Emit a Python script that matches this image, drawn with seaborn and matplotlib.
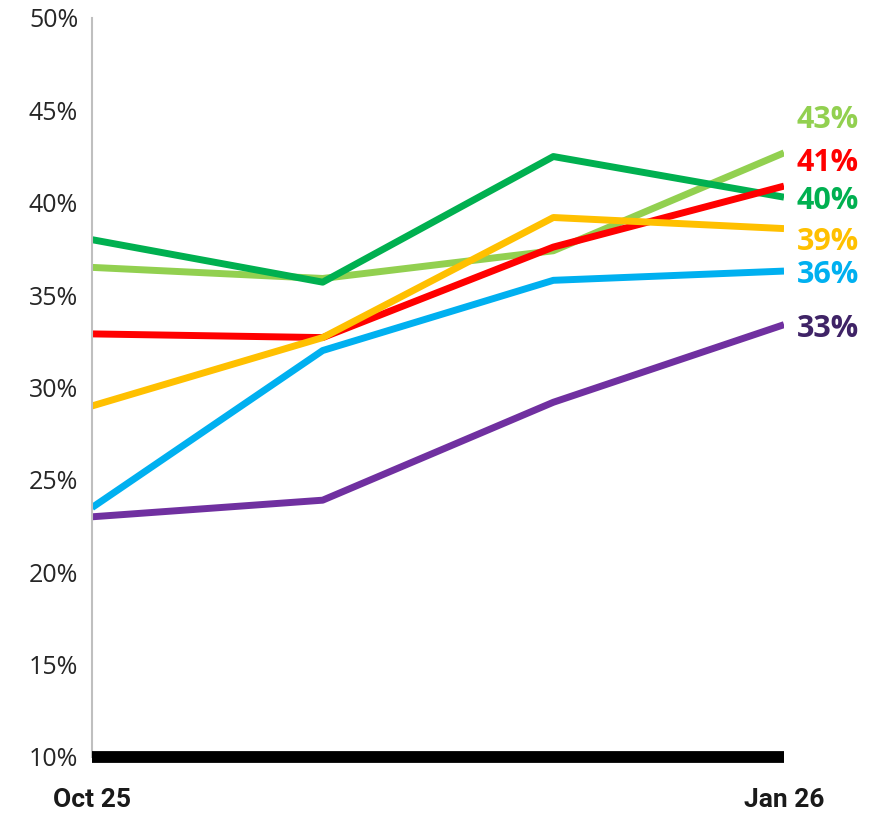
import pandas as pd
import numpy as np
import matplotlib.pyplot as plt
import seaborn as sns

# Data

periods = ["Oct 25", "Nov 25", "Dec 25", "Jan 26"]

light_green = [36.5, 35.9, 37.4, 42.7]
dark_green = [38.0, 35.7, 42.5, 40.3]
red = [32.9, 32.7, 37.6, 40.9]
yellow = [29.0, 32.7, 39.2, 38.6]
blue = [23.5, 32.0, 35.8, 36.3]
purple = [23.0, 23.9, 29.2, 33.4]

series_names = ["light_green", "dark_green", "red", "yellow", "blue", "purple"]
series_values = [light_green, dark_green, red, yellow, blue, purple]

# Styles

line_colors = {
    "light_green": "#92D050",
    "dark_green": "#00B050",
    "red": "#FF0000",
    "yellow": "#FFC000",
    "blue": "#00B0F0",
    "purple": "#7030A0",
}

label_colors = {
    "light_green": "#92D050",
    "dark_green": "#00B050",
    "red": "#FF0000",
    "yellow": "#FFC000",
    "blue": "#00B0F0",
    "purple": "#3F2366",
}

# label offsets in pixels (to avoid overlap)
label_offsets = {
    "light_green": 33,
    "dark_green": -4,
    "red": 23,
    "yellow": -13,
    "blue": -4,
    "purple": -4,
}

rows = []
for name, vals in zip(series_names, series_values):
    for i, v in enumerate(vals):
        rows.append({"series": name, "x": i, "value": v})
df = pd.DataFrame(rows)

sns.set_style("white")
plt.rcParams["font.family"] = ["Open Sans", "DejaVu Sans"]
plt.rcParams["lines.solid_capstyle"] = "butt"

fig = plt.figure(figsize=(8.69, 8.13), dpi=100)
ax = fig.add_axes([0.1059, 0.0689, 0.7963, 0.9090])

sns.lineplot(
    data=df,
    x="x",
    y="value",
    hue="series",
    palette=line_colors,
    linewidth=5,
    legend=False,
    ax=ax,
)

ax.set_xlim(0, len(periods) - 1)
ax.set_ylim(10, 50)

ax.axhline(10, color="black", linewidth=8.5, clip_on=False, zorder=5,
           solid_capstyle="butt")

ax.set_yticks(np.arange(10, 51, 5))
ax.set_yticklabels([f"{t}%" for t in range(10, 51, 5)], fontsize=18, color="#262626")

ax.set_xticks([0, len(periods) - 1])
ax.set_xticklabels(
    [periods[0], periods[-1]],
    fontsize=19,
    fontweight="bold",
    family=["Liberation Sans Narrow", "Roboto", "DejaVu Sans"],
    color="#1a1a1a",
)
ax.tick_params(axis="x", length=0, pad=22)
ax.tick_params(axis="y", length=0, pad=10)

ax.set_xlabel("")
ax.set_ylabel("")

for side in ["top", "right", "bottom"]:
    ax.spines[side].set_visible(False)
ax.spines["left"].set_color("#BFBFBF")
ax.spines["left"].set_linewidth(1.5)

# End labels

for name, vals in zip(series_names, series_values):
    ax.annotate(
        f"{vals[-1]:.0f}%",
        xy=(len(periods) - 1, vals[-1]),
        xytext=(9, label_offsets[name] * 0.72),
        textcoords="offset points",
        ha="left",
        va="center",
        fontsize=22,
        fontweight="bold",
        color=label_colors[name],
        annotation_clip=False,
    )

plt.savefig("out.png", dpi=100)
